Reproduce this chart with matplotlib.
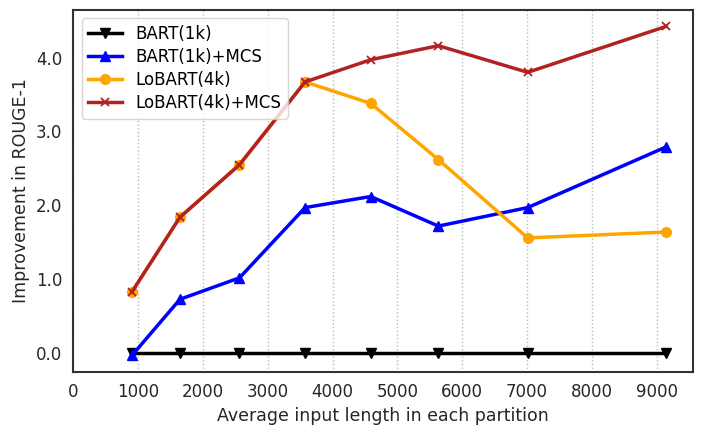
import matplotlib
matplotlib.use("Agg")
import matplotlib.pyplot as plt
import numpy as np
from matplotlib.ticker import FormatStrFormatter

# average input length of each partition
lengths = [904, 1645, 2563, 3575, 4587, 5631, 7009, 9142]

bart = [0, 0, 0, 0, 0, 0, 0, 0]
bart_mcs = [-0.03, 0.73, 1.02, 1.97, 2.12, 1.72, 1.97, 2.79]
lobart = [0.83, 1.84, 2.55, 3.67, 3.38, 2.62, 1.56, 1.64]
lobart_mcs = [0.83, 1.84, 2.55, 3.67, 3.97, 4.16, 3.80, 4.42]

plt.rcParams['font.family'] = ['DejaVu Sans']

fig = plt.figure(figsize=(7.03, 4.36), dpi=100)
ax = fig.add_axes([0.1043, 0.147, 0.881, 0.830])

ax.plot(lengths, bart, color='black', marker='v', lw=2.5, ms=7, label='BART(1k)')
ax.plot(lengths, bart_mcs, color='blue', marker='^', lw=2.5, ms=7, label='BART(1k)+MCS')
ax.plot(lengths, lobart, color='orange', marker='o', lw=2.5, ms=7, label='LoBART(4k)')
ax.plot(lengths, lobart_mcs, color='firebrick', marker='x', lw=2.5, ms=6, mew=1.3,
        label='LoBART(4k)+MCS')

ax.set_xlim(left=0)
ax.set_xticks(np.arange(0, 9001, 1000))
ax.set_yticks([0, 1, 2, 3, 4])
ax.yaxis.set_major_formatter(FormatStrFormatter('%.1f'))
ax.tick_params(labelsize=12, length=0, pad=8, colors='#262626')

ax.grid(axis='x', linestyle=':', color='#bbbbbb', lw=1)
for s in ax.spines.values():
    s.set_color('#333333')
    s.set_linewidth(1.5)

ax.set_xlabel('Average input length in each partition', fontsize=12.5, color='#262626')
ax.set_ylabel('Improvement in ROUGE-1', fontsize=12.5, color='#262626')

ax.legend(loc='upper left', fontsize=12, framealpha=0.8, edgecolor='#cccccc',
          handlelength=2.0, borderpad=0.4, labelspacing=0.3)

fig.savefig('out.png', dpi=100)
